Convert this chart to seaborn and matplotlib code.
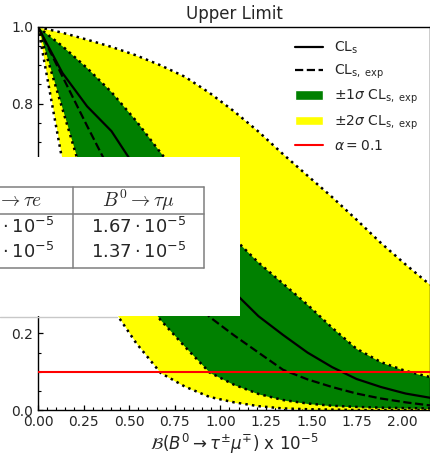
import matplotlib
matplotlib.use("Agg")
import matplotlib.pyplot as plt
from matplotlib.patches import Patch
from matplotlib.lines import Line2D
from matplotlib.ticker import MultipleLocator
import seaborn as sns

sns.set_style("ticks")
plt.rcParams['font.family'] = ['DejaVu Sans']

# ---- data ----
x_scan = [0.0, 0.134, 0.269, 0.403, 0.538, 0.672, 0.806, 0.941, 1.075,
          1.209, 1.344, 1.478, 1.613, 1.747, 1.881, 2.016, 2.150]
cls_obs = [1.0, 0.880, 0.793, 0.728, 0.630, 0.540, 0.455, 0.375, 0.308,
           0.245, 0.196, 0.150, 0.112, 0.081, 0.060, 0.043, 0.032]
cls_exp = [1.0, 0.871, 0.742, 0.617, 0.505, 0.405, 0.315, 0.243, 0.195,
           0.150, 0.105, 0.080, 0.060, 0.043, 0.030, 0.020, 0.012]
exp_p1 = [1.0, 0.950, 0.893, 0.830, 0.755, 0.672, 0.592, 0.515, 0.448,
          0.385, 0.330, 0.275, 0.215, 0.160, 0.125, 0.102, 0.086]
exp_m1 = [1.0, 0.786, 0.570, 0.440, 0.320, 0.235, 0.165, 0.098, 0.066,
          0.042, 0.026, 0.017, 0.011, 0.008, 0.006, 0.005, 0.004]
exp_p2 = [1.0, 0.985, 0.967, 0.948, 0.926, 0.900, 0.870, 0.828, 0.780,
          0.727, 0.668, 0.612, 0.556, 0.497, 0.436, 0.380, 0.327]
exp_m2 = [1.0, 0.650, 0.430, 0.270, 0.175, 0.097, 0.061, 0.034, 0.020,
          0.010, 0.004, 0.002, 0.001, 0.0, 0.0, 0.0, 0.0]
alpha_level = 0.1

legend_labels = [r"CL$_\mathrm{s}$", r"CL$_\mathrm{s,\ exp}$",
                 r"$\pm1\sigma$ CL$_\mathrm{s,\ exp}$",
                 r"$\pm2\sigma$ CL$_\mathrm{s,\ exp}$", r"$\alpha=0.1$"]

table_header = [r"$B^0 \rightarrow \tau e$", r"$B^0 \rightarrow \tau \mu$"]
table_obs = [r"$1.61 \cdot 10^{-5}$", r"$1.67 \cdot 10^{-5}$"]
table_exp = [r"$1.35 \cdot 10^{-5}$", r"$1.37 \cdot 10^{-5}$"]

W, H = 430, 454
fig = plt.figure(figsize=(W / 100, H / 100), dpi=100)
ax = fig.add_axes([38 / W, 44 / H, 392 / W, 383 / H])

ax.fill_between(x_scan, exp_m2, exp_p2, color="yellow", lw=0, zorder=1)
ax.fill_between(x_scan, exp_m1, exp_p1, color="green", lw=0, zorder=2)
for band in (exp_p2, exp_m2, exp_p1, exp_m1):
    ax.plot(x_scan, band, color="black", ls=":", lw=1.8, zorder=3)

sns.lineplot(x=x_scan, y=cls_obs, ax=ax, color="black", lw=1.6, zorder=4)
sns.lineplot(x=x_scan, y=cls_exp, ax=ax, color="black", lw=1.6, ls="--", zorder=4)
ax.axhline(alpha_level, color="red", lw=1.5, zorder=5)

ax.set_xlim(0, 2.15)
ax.set_ylim(0, 1.0)
ax.xaxis.set_major_locator(MultipleLocator(0.25))
ax.xaxis.set_minor_locator(MultipleLocator(0.05))
ax.yaxis.set_major_locator(MultipleLocator(0.2))
ax.yaxis.set_minor_locator(MultipleLocator(0.05))
ax.xaxis.set_major_formatter(matplotlib.ticker.FormatStrFormatter("%.2f"))
ax.yaxis.set_major_formatter(matplotlib.ticker.FormatStrFormatter("%.1f"))
ax.tick_params(which="both", direction="in", labelsize=10, color="black")
ax.tick_params(which="major", length=3.5, width=0.9)
ax.tick_params(which="minor", length=2, width=0.8)
for s in ax.spines.values():
    s.set_visible(True)
    s.set_linewidth(1.0)
    s.set_color("black")

ax.set_title("Upper Limit", fontsize=12)
ax.set_xlabel(r"$\mathcal{B}(B^0 \rightarrow \tau^{\pm}\mu^{\mp})$ x $10^{-5}$",
              fontsize=12, labelpad=2.5)

handles = [Line2D([], [], color="black", lw=1.6),
           Line2D([], [], color="black", lw=1.6, ls="--"),
           Patch(facecolor="green"),
           Patch(facecolor="yellow"),
           Line2D([], [], color="red", lw=1.5)]
ax.legend(handles, legend_labels, loc="upper right", frameon=False, fontsize=10)

# ---- overlaid table image (white box) ----
tb = fig.add_axes([0, (H - 316) / H, 240 / W, 159 / H], zorder=10)
tb.set_facecolor("white")
tb.set_xlim(0, 240)
tb.set_ylim(316, 157)
tb.set_xticks([])
tb.set_yticks([])
for s in tb.spines.values():
    s.set_visible(False)
gray = "#7f7f7f"
for yy in (187, 214, 268):
    tb.plot([-5, 204], [yy, yy], color=gray, lw=1.1)
for xx in (73, 204):
    tb.plot([xx, xx], [187, 268], color=gray, lw=1.1)
col_c = [7, 138.5]
for i in range(2):
    tb.text(col_c[i], 200.5, table_header[i], ha="center", va="center",
            fontsize=14, math_fontfamily="cm")
    tb.text(col_c[i], 227, table_obs[i], ha="center", va="center",
            fontsize=13, math_fontfamily="dejavusans")
    tb.text(col_c[i], 252, table_exp[i], ha="center", va="center",
            fontsize=13, math_fontfamily="dejavusans")
fig.add_artist(Line2D([0, 117 / W], [(H - 317) / H] * 2, color="#c8c8c8", lw=1,
                      transform=fig.transFigure, zorder=11))

fig.savefig("out.png", dpi=100)
